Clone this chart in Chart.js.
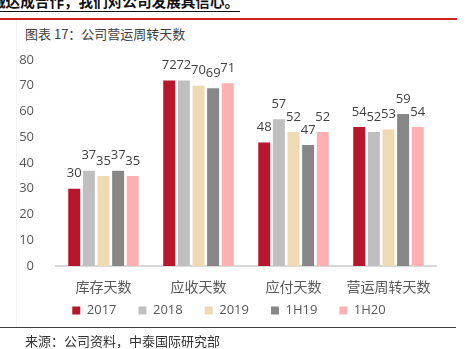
<!DOCTYPE html>
<html>
<head>
<meta charset="utf-8">
<script src="https://cdn.jsdelivr.net/npm/chart.js@4"></script>
<style>
    body { margin: 0; width: 467px; height: 349px; overflow: hidden; background: #fff; position: relative; font-family: "Noto Sans CJK SC", sans-serif; }
    #chartBox { position: absolute; left: 0; top: 0; width: 467px; height: 349px; }
    .topText { position: absolute; left: -9px; top: -10px; font-size: 14.6px; font-weight: bold; color: #111; white-space: nowrap; }
    .topLine { position: absolute; left: 0; top: 11px; width: 240px; height: 1px; background: #111; }
    .redLine { position: absolute; left: 0; top: 18px; width: 457px; height: 2px; background: #d21f1f; }
    .title { position: absolute; left: 25px; top: 24px; font-size: 13px; color: #404040; }
    .leftLine { position: absolute; left: 16px; top: 20px; width: 1px; height: 307px; background: #f3f3f3; }
    .bottomLine { position: absolute; left: 0; top: 327px; width: 456px; height: 1px; background: #404040; }
    .source { position: absolute; left: 25px; top: 331px; font-size: 13px; color: #333; }
</style>
</head>
<body>
<div class="topText">诚达成合作，我们对公司发展具信心。</div>
<div class="topLine"></div>
<div class="redLine"></div>
<div class="leftLine"></div>
<div class="title">图表 17：公司营运周转天数</div>
<div id="chartBox"><canvas id="chart"></canvas></div>
<div class="bottomLine"></div>
<div class="source">来源：公司资料，中泰国际研究部</div>
<script>
// categories and series
const categories = ["库存天数", "应收天数", "应付天数", "营运周转天数"];
const seriesNames = ["2017", "2018", "2019", "1H19", "1H20"];
const values2017 = [30, 72, 48, 54];
const values2018 = [37, 72, 57, 52];
const values2019 = [35, 70, 52, 53];
const values1H19 = [37, 69, 47, 59];
const values1H20 = [35, 71, 52, 54];
const yTicks = [0, 10, 20, 30, 40, 50, 60, 70, 80];

const seriesColors = ["#b8162d", "#bfbfbf", "#efdab3", "#878787", "#ffb1b1"];
const seriesValues = [values2017, values2018, values2019, values1H19, values1H20];

// draws the number above every bar
const valueLabels = {
    id: "valueLabels",
    afterDatasetsDraw(chart) {
        const ctx = chart.ctx;
        ctx.save();
        ctx.font = "13px 'Open Sans'";
        ctx.fillStyle = "#404040";
        ctx.textAlign = "center";
        ctx.textBaseline = "middle";
        chart.data.datasets.forEach((ds, i) => {
            chart.getDatasetMeta(i).data.forEach((bar, j) => {
                ctx.fillText(ds.data[j], bar.x, bar.y - 15);
            });
        });
        ctx.restore();
    },
};

// pull the legend up closer to the category labels, and a bit left
const legendNudge = {
    id: "legendNudge",
    afterLayout(chart) {
        const lg = chart.legend;
        lg.top -= 14;
        lg.bottom -= 14;
        lg.left -= 17;
        lg.right -= 17;
    },
};

const chart = new Chart(document.getElementById("chart"), {
    type: "bar",
    data: {
        labels: categories,
        datasets: seriesNames.map((name, i) => ({
            label: name,
            data: seriesValues[i],
            backgroundColor: seriesColors[i],
            barPercentage: 0.82,
            categoryPercentage: 0.77,
        })),
    },
    options: {
        responsive: true,
        maintainAspectRatio: false,
        animation: false,
        layout: {
            padding: { top: 60, right: 31, left: 0, bottom: 8 },
        },
        scales: {
            x: {
                afterFit(scale) {
                    scale.height = 30;
                },
                grid: { display: false },
                border: { display: true, color: "#d9d9d9", width: 2 },
                ticks: {
                    color: "#595959",
                    padding: 4,
                    font: { family: "'Noto Sans CJK SC'", size: 14 },
                },
            },
            y: {
                min: 0,
                max: 80,
                afterFit(scale) {
                    scale.width = 56;
                },
                afterBuildTicks(scale) {
                    scale.ticks = yTicks.map((v) => ({ value: v }));
                },
                grid: { display: false },
                border: { display: false },
                ticks: {
                    color: "#595959",
                    padding: 14,
                    font: { family: "'Open Sans'", size: 13 },
                },
            },
        },
        plugins: {
            legend: {
                position: "bottom",
                fullSize: false,
                labels: {
                    boxWidth: 8,
                    boxHeight: 8,
                    padding: 22,
                    color: "#595959",
                    font: { family: "'Open Sans'", size: 13 },
                },
            },
            tooltip: { enabled: false },
        },
    },
    plugins: [valueLabels, legendNudge],
});
</script>
</body>
</html>
